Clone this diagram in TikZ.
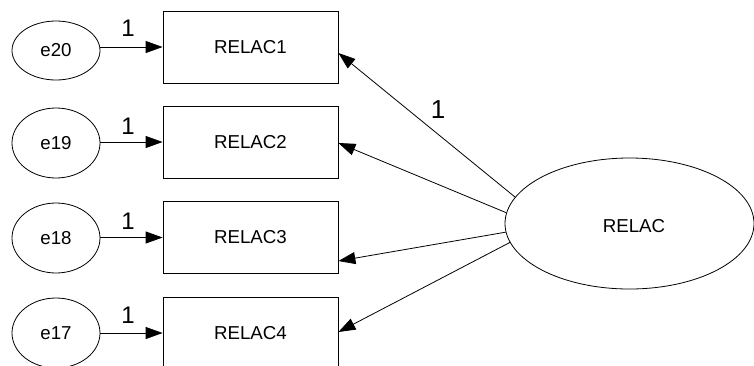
\documentclass[tikz,border=0pt]{standalone}
\usepackage{fontspec}
\setmainfont{Liberation Sans}
\usetikzlibrary{arrows.meta,shapes.geometric}
\begin{document}
\begin{tikzpicture}[x=1pt,y=-1pt,
  every node/.style={font=\fontsize{18.7}{20}\selectfont},
  obs/.style={draw, line width=0.8pt, minimum width=175pt, minimum height=72pt, inner sep=0pt},
  err/.style={draw, ellipse, line width=0.8pt, minimum width=88pt, minimum height=70pt, inner sep=0pt},
  lat/.style={draw, ellipse, line width=0.8pt, minimum width=249pt, minimum height=131pt, inner sep=0pt},
  wt/.style={inner sep=0pt, font=\fontsize{24}{25}\selectfont},
  arr/.style={line width=0.8pt, -{Triangle[length=17pt,width=12pt]}}
]
\useasboundingbox (0,0) rectangle (754,365);

% observed indicators
\node[obs] (r1) at (250.5,47)  {RELAC1};
\node[obs] (r2) at (250.5,142) {RELAC2};
\node[obs] (r3) at (250.5,237.5) {RELAC3};
\node[obs] (r4) at (250.5,333) {RELAC4};

% error terms
\node[err, minimum height=59pt] (e20) at (56,50.5) {e20};
\node[err] (e19) at (56,143) {e19};
\node[err] (e18) at (56,238) {e18};
\node[err] (e17) at (56,333) {e17};

% latent factor
\node[lat] (L) at (629.5,223.5) {};
\node at (634,226) {RELAC};

% error paths
\draw[arr] (e20.east |- r1.west) -- (r1.west);
\draw[arr] (e19.east |- r2.west) -- (r2.west);
\draw[arr] (e18.east |- r3.west) -- (r3.west);
\draw[arr] (e17.east |- r4.west) -- (r4.west);
\node[wt] at (128,28)  {1};
\node[wt] at (128,126) {1};
\node[wt] at (128,221) {1};
\node[wt] at (128,315.5) {1};

% loadings
\draw[arr] (L.167) -- ([yshift=-6pt]r1.east);
\draw[arr] (L.175) -- ([yshift=-1pt]r2.east);
\draw[arr] (L.184) -- ([yshift=-23.5pt]r3.east);
\draw[arr] (L.189) -- ([yshift=1pt]r4.east);
\node[wt, font=\fontsize{26}{27}\selectfont] at (438,109.5) {1};
\end{tikzpicture}
\end{document}
